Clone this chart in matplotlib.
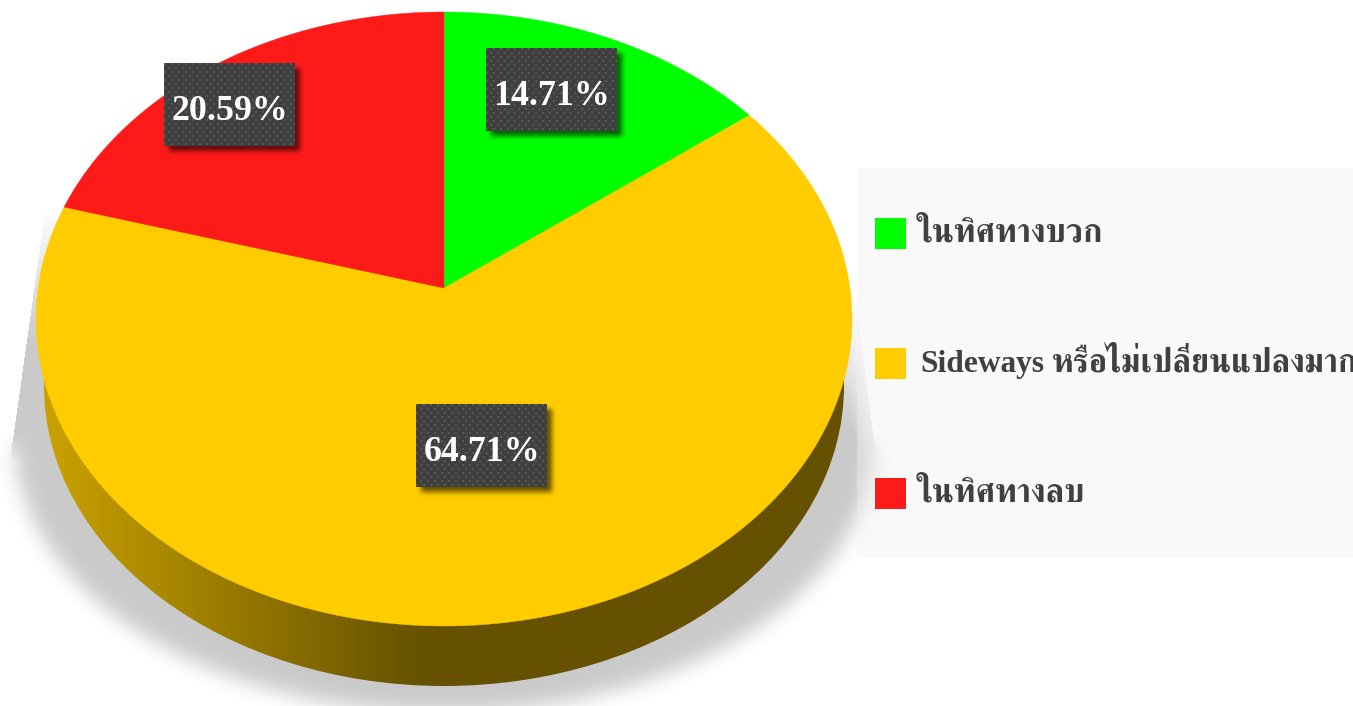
import numpy as np
import matplotlib
matplotlib.use("Agg")
import matplotlib.pyplot as plt
from matplotlib.colors import to_rgb
from matplotlib.patches import Ellipse, Polygon, Rectangle

names = ["ในทิศทางบวก", "Sideways หรือไม่เปลี่ยนแปลงมาก", "ในทิศทางลบ"]
values = [14.71, 64.71, 20.59]
labels = ["14.71%", "64.71%", "20.59%"]
colors = ["#00ff00", "#ffcc00", "#ff1a1a"]

W, H = 1353, 706

# pie layout, in pixels
CX, APEX_Y = 444, 288
K, A, C = 405.9, 303.87, 0.10098
BASE = (444, 386, 400, 300)
SHADOW = (444, 440, 430, 272)
label_boxes = [(486, 48), (416, 404), (164, 63)]
BOX_W, BOX_H = 131, 83


def project(frac):
    # slice fraction to canvas pixels, the pie is seen in perspective
    t = 2 * np.pi * np.asarray(frac)
    u, v = np.sin(t), np.cos(t)
    w = C * v + 1
    return CX + K * u / w, APEX_Y - A * v / w


def box_blur(a, n, passes=3):
    k = np.ones(2 * n + 1) / (2 * n + 1)
    for axis in (0, 1):
        for _ in range(passes):
            a = np.apply_along_axis(lambda m: np.convolve(m, k, mode="same"), axis, a)
    return a


fig = plt.figure(figsize=(W / 100, H / 100), dpi=100)
ax = fig.add_axes([0, 0, 1, 1])
ax.axis("off")

# shadow under the pie
pad = 60
yy, xx = np.mgrid[-pad:H + pad, -pad:W + pad]
ell = (((xx - SHADOW[0]) / SHADOW[2]) ** 2 + ((yy - SHADOW[1]) / SHADOW[3]) ** 2 <= 1).astype(float)
soft = box_blur(ell, 9)
# straight edges on both sides, fading out towards the top
left = 43 + (11 - 43) * (yy - 223) / (450 - 223.0)
right = 852 + (876 - 852) * (yy - 270) / (460 - 270.0)
edge = np.zeros_like(soft)
in_left = (yy > 205) & (xx > left) & (xx < CX)
in_right = (yy > 270) & (xx < right) & (xx >= CX)
edge[in_left] = np.clip((yy[in_left] - 205) / 135.0, 0, 1)
edge[in_right] = np.clip((yy[in_right] - 280) / 150.0, 0, 1) * (0.4 + 0.6 * np.clip((right[in_right] - xx[in_right]) / 20.0, 0, 1))
w = np.clip((yy - 430) / 30.0, 0, 1)
sh_a = (edge * (1 - w) + soft * w)[pad:-pad, pad:-pad]
rgba = np.zeros((H, W, 4))
rgba[..., 3] = sh_a * 0.21
ax.imshow(rgba, extent=(0, W, H, 0), aspect="auto", zorder=1)

# legend panel, the shadow shows through it
ax.add_patch(Rectangle((857, 168), W - 857, 390, fc="#f0f0f0", ec="none", alpha=0.4, zorder=2))

# side wall, colour of the slice at the front
base_c = np.array(to_rgb(colors[1]))
shade = np.interp(np.arange(W), [36, 420], [0.8, 0.4])
wall = base_c[None, None, :] * shade[None, :, None]
im = ax.imshow(wall, extent=(0, W, H, 0), aspect="auto", zorder=3)
im.set_clip_path(Ellipse(BASE[:2], 2 * BASE[2], 2 * BASE[3], transform=ax.transData))

# top face
cum = np.concatenate([[0], np.cumsum(values) / np.sum(values)])
for i in range(len(values)):
    f = np.linspace(cum[i], cum[i + 1], 200)
    x, y = project(f)
    pts = np.column_stack([np.r_[CX, x], np.r_[APEX_Y, y]])
    ax.add_patch(Polygon(pts, closed=True, fc=colors[i], ec=colors[i], lw=0.3, zorder=4))

# label boxes
box_sh = np.zeros((H + 2 * pad, W + 2 * pad))
for bx, by in label_boxes:
    box_sh[by + 5 + pad:by + 5 + BOX_H + pad, bx + 5 + pad:bx + 5 + BOX_W + pad] = 1
box_sh = box_blur(box_sh, 2)[pad:-pad, pad:-pad]
rgba = np.zeros((H, W, 4))
rgba[..., 3] = box_sh * 0.6
ax.imshow(rgba, extent=(0, W, H, 0), aspect="auto", zorder=5)

dark = np.array(to_rgb("#404040"))
dot = np.array(to_rgb("#575757"))
by_px, bx_px = np.mgrid[0:BOX_H, 0:BOX_W]
row = by_px // 4
mask = ((by_px % 4) < 2) & (((bx_px + (row % 2) * 3.5) % 7) < 2)
tile = np.where(mask[..., None], dot, dark)
for (bx, by), lab in zip(label_boxes, labels):
    ax.imshow(tile, extent=(bx, bx + BOX_W, by + BOX_H, by), aspect="auto", zorder=6, interpolation="nearest")
    ax.text(bx + BOX_W / 2 + 0.5, by + BOX_H / 2 + 7, lab, color="white", fontsize=25.8, family="Liberation Serif",
            weight="bold", ha="center", va="center", zorder=7)

# legend, the latin word is set apart because the thai font runs a bit bigger
thai_font = dict(color="#404040", fontsize=23.5, family=["FreeSerif"], weight="bold", va="baseline", zorder=8, clip_on=True)
for j, name in enumerate(names):
    y0 = 218 + 130 * j
    ax.add_patch(Rectangle((875, y0), 31, 31, fc=colors[j], ec="none", zorder=8))
    if " " in name:
        latin, rest = name.split(" ", 1)
        ax.text(920, y0 + 24, latin, color="#404040", fontsize=22.6, family="Liberation Serif", weight="bold",
                va="baseline", zorder=8)
        ax.text(1052, y0 + 24, rest, **thai_font)
    else:
        ax.text(917, y0 + 24, name, **thai_font)

ax.set_xlim(0, W)
ax.set_ylim(H, 0)
fig.savefig("out.png", dpi=100)
